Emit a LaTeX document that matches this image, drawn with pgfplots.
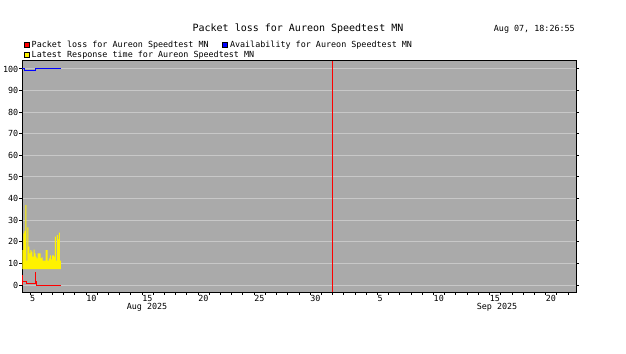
\documentclass[border=0pt]{standalone}
\usepackage{fontspec}
\setmainfont{DejaVu Sans Mono}
\usepackage{pgfplots}
\pgfplotsset{compat=1.18}
\definecolor{bggray}{RGB}{170,170,170}
\definecolor{gridgray}{RGB}{200,200,200}
\newcommand{\smallfont}{\fontsize{8.4bp}{10bp}\selectfont}
\begin{document}
\begin{tikzpicture}[x=1bp,y=1bp]
\path[use as bounding box] (0,0) rectangle (626,353);
\begin{axis}[
  at={(22bp,61bp)}, anchor=south west,
  scale only axis, width=554bp, height=231bp,
  xmin=3.286, xmax=52.71, ymin=-3.24, ymax=103.7,
  axis background/.style={fill=bggray},
  axis line style={black, line width=1bp},
  every tick/.style={black, line width=1bp},
  tick align=outside,
  major tick length=2.5bp, minor tick length=2.5bp,
  xtick={4,9,14,19,24,29,35,40,45,50},
  xticklabels={5,10,15,20,25,30,5,10,15,20},
  minor xtick={4,5,...,52},
  ytick={0,10,...,100},
  ymajorgrids, major grid style={gridgray, line width=1bp},
  xtick pos=bottom,
  /pgf/number format/assume math mode=true,
  tick label style={font=\smallfont, inner sep=0.5bp},
  xticklabel style={anchor=north west, xshift=-0.5bp, yshift=-0.5bp},
  yticklabel style={anchor=east, xshift=-0.5bp},
  extra x ticks={31}, extra x tick labels={},
  extra x tick style={grid=major, major grid style={red, line width=1bp}, major tick length=0pt},
  clip=true,
]
\addplot[fill=yellow, draw=none, const plot mark left] coordinates {
(3.313,7.4) (3.313,16.2) (3.404,23.9) (3.495,24.9) (3.585,37) (3.676,11.3)
(3.767,26.7) (3.858,17.8) (3.949,14.7) (4.039,16.2) (4.130,15.5) (4.221,13.1)
(4.312,16.4) (4.403,14.7) (4.493,13.1) (4.584,12.3) (4.675,14.7) (4.766,14.7)
(4.857,14.7) (4.947,12.3) (5.038,12.8) (5.129,11.3) (5.220,11.3) (5.311,11.3)
(5.401,16.2) (5.492,16.2) (5.583,11.3) (5.674,12.3) (5.765,13.7) (5.855,11.9)
(5.946,13.7) (6.037,13.7) (6.128,13.1) (6.219,22.4) (6.309,11.3) (6.400,23.1)
(6.491,21.1) (6.582,24.2) (6.673,11.3) (6.765,11.3) (6.765,7.4)
} -- cycle;
\addplot[red, line width=1bp, mark=none] coordinates {
(3.313,0) (3.313,4.3) (3.33,4.3) (3.33,1.6) (3.688,1.6) (3.688,0.9)
(4.473,0.9) (4.473,5.9) (4.50,5.9) (4.50,1.7) (4.58,1.7) (4.58,0) (6.765,0)
};
\addplot[blue, line width=1bp, mark=none] coordinates {
(3.313,100) (3.465,100) (3.465,99.1) (4.51,99.1) (4.51,100) (6.765,100)
};
\end{axis}
% month labels
\node[font=\smallfont, anchor=base, inner sep=0] at (147,43.5) {Aug 2025};
\node[font=\smallfont, anchor=base, inner sep=0] at (497,43.5) {Sep 2025};
% title and timestamp
\node[font=\fontsize{10bp}{12bp}\selectfont, anchor=base, inner sep=0] at (298,322) {Packet loss for Aureon Speedtest MN};
\node[font=\smallfont, anchor=base east, inner sep=0] at (575,321.5) {Aug 07, 18:26:55};
% legend
\filldraw[fill=red, draw=black, line width=0.6bp] (23.8,305.3) rectangle (29,310.5);
\node[font=\smallfont, anchor=base west, inner sep=0] at (31.5,305.5) {Packet loss for Aureon Speedtest MN};
\filldraw[fill=blue, draw=black, line width=0.6bp] (222.3,305.3) rectangle (227.5,310.5);
\node[font=\smallfont, anchor=base west, inner sep=0] at (229.8,305.5) {Availability for Aureon Speedtest MN};
\filldraw[fill=yellow, draw=black, line width=0.6bp] (23.8,295.3) rectangle (29,300.5);
\node[font=\smallfont, anchor=base west, inner sep=0] at (31.5,295.5) {Latest Response time for Aureon Speedtest MN};
\end{tikzpicture}
\end{document}
